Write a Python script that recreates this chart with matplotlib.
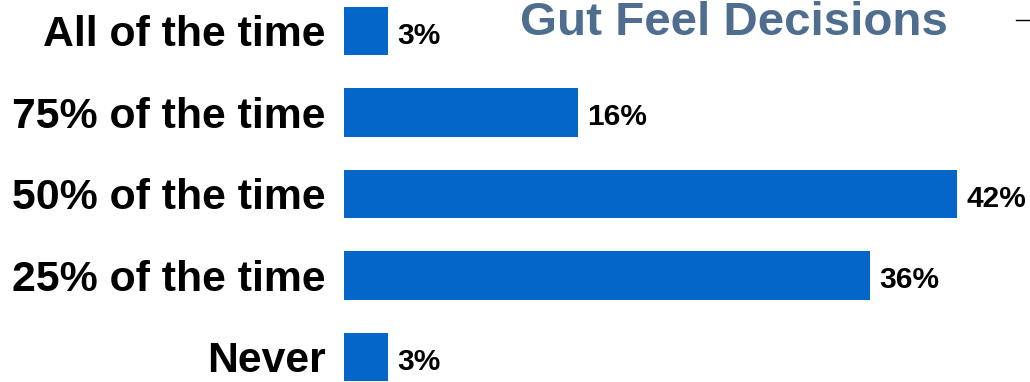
import matplotlib.pyplot as plt
from matplotlib.lines import Line2D

categories = ["All of the time", "75% of the time", "50% of the time",
              "25% of the time", "Never"]
shares = [3, 16, 42, 36, 3]
title = "Gut Feel Decisions"

W, H = 1030, 382
fig = plt.figure(figsize=(W / 100, H / 100), dpi=100)
plt.rcParams['font.family'] = ['Liberation Sans', 'DejaVu Sans']

left = 344 / W
ax = fig.add_axes([left, 0, 1 - left, 1])
ypos = list(range(len(categories)))
ax.barh(ypos, shares, height=0.6, color='#0466C8')
ax.set_xlim(0, (W - 344) / 14.6)
ax.set_ylim(4.307, -0.380)

ax.set_yticks(ypos)
ax.set_yticklabels(categories, fontsize=30.8, fontweight='bold')
ax.tick_params(axis='y', length=0, pad=13)
ax.set_xticks([])
for s in ax.spines.values():
    s.set_visible(False)

for y, v in zip(ypos, shares):
    ax.annotate(f"{v}%", (v, y), xytext=(7, -3.5), textcoords='offset points',
                ha='left', va='center', fontsize=21.5, fontweight='bold')

fig.text(734 / W, 1 - 35 / H, title, ha='center', va='baseline',
         fontsize=34.2, fontweight='bold', color='#4F6D8F')

# short rule at the top right edge
fig.add_artist(Line2D([1016 / W, 1.0], [1 - 20 / H, 1 - 20 / H],
                      color='black', lw=1))

fig.savefig('out.png', dpi=100)
